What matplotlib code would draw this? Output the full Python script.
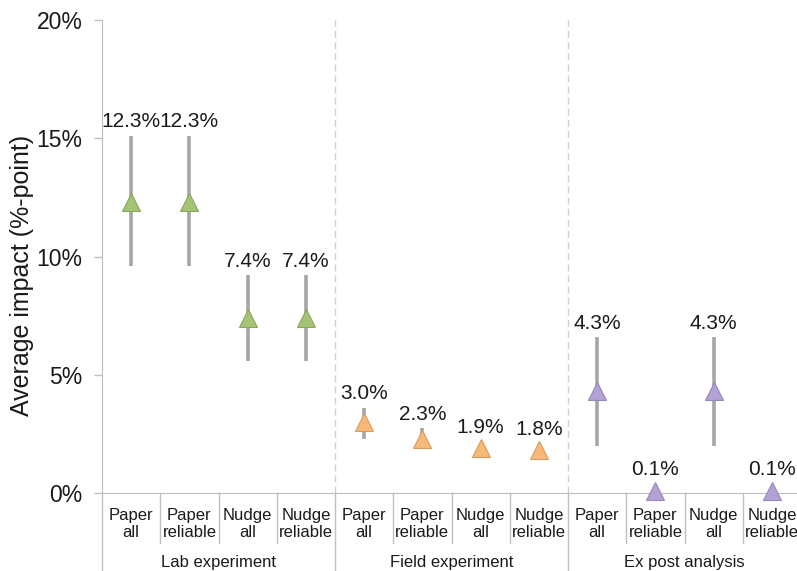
import numpy as np
import matplotlib.pyplot as plt
import matplotlib.transforms as mtransforms

plt.rcParams['font.family'] = ['Liberation Sans', 'DejaVu Sans']

# Average impact per treatment (%-point) with confidence bounds
groups = ['Lab experiment', 'Field experiment', 'Ex post analysis']
categories = ['Paper\nall', 'Paper\nreliable', 'Nudge\nall', 'Nudge\nreliable'] * 3
values = [12.3, 12.3, 7.4, 7.4,
          3.0, 2.3, 1.9, 1.8,
          4.3, 0.1, 4.3, 0.1]
upper = [15.1, 15.1, 9.2, 9.2,
         3.6, 2.75, 1.9, 1.8,
         6.6, 0.1, 6.6, 0.1]
lower = [9.6, 9.6, 5.6, 5.6,
         2.3, 2.0, 1.9, 1.8,
         2.0, 0.1, 2.0, 0.1]
group_colors = ['#a5c375', '#f7b977', '#b3a3d5']
edge_colors = ['#8aa65c', '#d99c5c', '#9788b8']

W, H = 797, 571
fig = plt.figure(figsize=(W / 100, H / 100), dpi=100)
ax_left, ax_bottom, ax_top = 102, 493, 20
ax = fig.add_axes([ax_left / W, (H - ax_bottom) / H, (W - ax_left) / W, (ax_bottom - ax_top) / H])

slot_px = 58.25
n = len(values)
x = np.arange(n) + 0.5
ax.set_xlim(0, (W - ax_left) / slot_px)
ax.set_ylim(0, 20)

grey = '#a6a6a6'
axis_grey = '#bfbfbf'
text_col = '#1a1a1a'

for i in range(n):
    g = i // 4
    ax.plot([x[i], x[i]], [lower[i], upper[i]], color=grey, lw=2.6, zorder=2,
            solid_capstyle='butt')
    ax.plot(x[i], values[i], marker='^', ms=12.5, color=group_colors[g],
            mec=edge_colors[g], mew=0.8, zorder=3, clip_on=False)
    top = max(upper[i], values[i])
    dy = 10 if upper[i] - values[i] > 0.3 else 15
    ax.annotate(f'{values[i]:.1f}%', xy=(x[i], top), xytext=(0, dy),
                textcoords='offset points', ha='center', va='center',
                fontsize=15, color=text_col)

# y axis
ax.set_yticks([0, 5, 10, 15, 20])
ax.set_yticklabels(['0%', '5%', '10%', '15%', '20%'], fontsize=16.5, color=text_col)
ax.tick_params(axis='y', direction='out', length=6, color=axis_grey, width=1, pad=8)
fig.text(22 / W, 1 - 275 / H, 'Average impact (%-point)', rotation=90,
         ha='center', va='center', fontsize=18, color=text_col)
ax.set_xticks([])
for side in ['top', 'right']:
    ax.spines[side].set_visible(False)
ax.spines['left'].set_color(axis_grey)
ax.spines['bottom'].set_color(axis_grey)

# multi-level category axis below the plot
trans = mtransforms.blended_transform_factory(ax.transData, ax.transAxes)
px = 1.0 / (ax_bottom - ax_top)
bottom_y = -(H - ax_bottom) * px
tick_y = -50 * px
ax.plot([0, 0], [0, bottom_y], transform=trans, color=axis_grey, lw=1, clip_on=False)
for b in range(1, n):
    if b % 4 == 0:
        ax.plot([b, b], [0, 1], transform=trans, color='#d0d0d0', lw=1,
                ls=(0, (5, 3)), clip_on=False, zorder=1)
        ax.plot([b, b], [0, bottom_y], transform=trans, color=axis_grey, lw=1, clip_on=False)
    else:
        ax.plot([b, b], [0, tick_y], transform=trans, color=axis_grey, lw=1, clip_on=False)

for i in range(n):
    ax.text(x[i], -31 * px, categories[i], transform=trans, ha='center', va='center',
            fontsize=12, linespacing=1.1, color=text_col)
for g, name in enumerate(groups):
    ax.text(4 * g + 2, -70 * px, name, transform=trans, ha='center', va='center',
            fontsize=12, color=text_col)

fig.savefig('out.png', dpi=100)
